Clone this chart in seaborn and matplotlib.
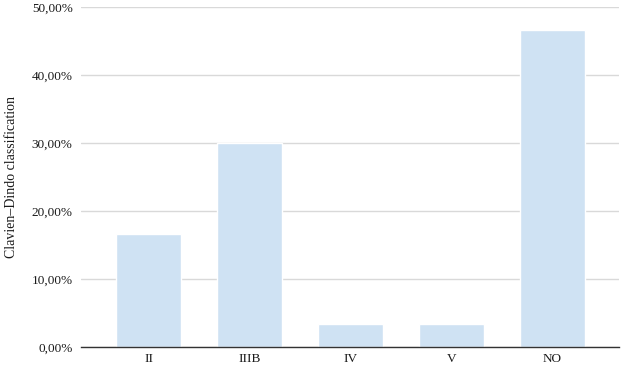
import matplotlib
matplotlib.use("Agg")
import matplotlib.pyplot as plt
import seaborn as sns
import pandas as pd
from matplotlib.ticker import FuncFormatter

categories = ["II", "IIIB", "IV", "V", "NO"]
values = [16.67, 30.0, 3.33, 3.33, 46.67]

sns.set_theme(style="white")
plt.rcParams['font.family'] = ['Liberation Serif', 'DejaVu Serif']

df = pd.DataFrame({"cat": categories, "val": values})

fig = plt.figure(figsize=(6.21, 3.67), dpi=100)
ax = fig.add_axes([0.1304, 0.0545, 0.8664, 0.9265])
sns.barplot(data=df, x="cat", y="val", color="#cfe2f3", saturation=1, width=0.64, ax=ax, zorder=3)

ax.set_ylim(0, 50)
ax.set_xlim(-0.67, 4.66)
ax.set_yticks([0, 10, 20, 30, 40, 50])
ax.yaxis.set_major_formatter(FuncFormatter(lambda v, p: f"{v:.2f}".replace(".", ",") + "%"))
ax.grid(axis="y", color="#d9d9d9", linewidth=1, zorder=0)
ax.set_axisbelow(True)
for s in ["top", "right", "left"]:
    ax.spines[s].set_visible(False)
ax.spines["bottom"].set_color("#333333")
ax.spines["bottom"].set_linewidth(1)
ax.spines["bottom"].set_zorder(5)
ax.tick_params(axis="y", length=0, labelsize=9.5, colors="#1a1a1a", pad=6)
ax.tick_params(axis="x", length=0, labelsize=9.5, colors="#1a1a1a", pad=4)
ax.set_xlabel("")
ax.set_ylabel("Clavien–Dindo classification", fontsize=10, color="#1a1a1a", labelpad=10)

fig.savefig("out.png", dpi=100)
